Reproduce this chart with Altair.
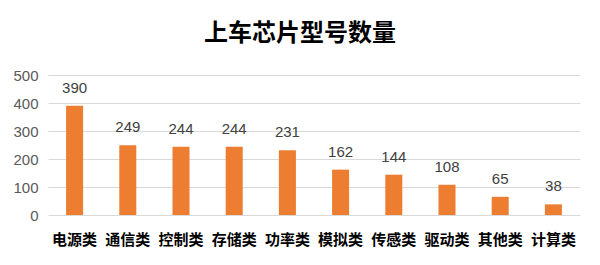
import altair as alt
import pandas as pd

categories = ["电源类", "通信类", "控制类", "存储类", "功率类", "模拟类", "传感类", "驱动类", "其他类", "计算类"]
values = [390, 249, 244, 244, 231, 162, 144, 108, 65, 38]

df = pd.DataFrame({"cat": categories, "val": values})
FONT = "Noto Sans CJK SC"
NUMFONT = "Liberation Sans"

base = alt.Chart(df).encode(
    x=alt.X("cat:N", sort=categories,
            scale=alt.Scale(paddingInner=0.68, paddingOuter=0.34),
            axis=alt.Axis(title=None, labelAngle=0, labelFont=FONT, labelFontSize=15,
                          labelFontWeight="bold", labelColor="#000000", labelPadding=17,
                          ticks=False, domain=False)),
    y=alt.Y("val:Q", scale=alt.Scale(domain=[0, 500]),
            axis=alt.Axis(title=None, values=[0, 100, 200, 300, 400, 500], labelFont=NUMFONT,
                          labelFontSize=15, labelColor="#595959", labelPadding=10,
                          ticks=False, domain=False, gridColor="#d9d9d9", gridWidth=1)),
)

bars = base.mark_bar(color="#ED7D31")
labels = base.mark_text(baseline="bottom", dy=-10, font=NUMFONT, fontSize=15, color="#404040").encode(
    text="val:Q")

chart = (bars + labels).properties(
    width=532, height=140,
    autosize=alt.AutoSizeParams(type="none"),
    padding={"left": 48, "top": 75, "right": 20, "bottom": 50},
    title=alt.TitleParams("上车芯片型号数量", font=FONT, fontSize=24, fontWeight="bold",
                          color="#000000", offset=22, dx=-14),
).configure_view(stroke=None)

chart.save("out.html", embed_options={"renderer": "svg", "actions": False})
